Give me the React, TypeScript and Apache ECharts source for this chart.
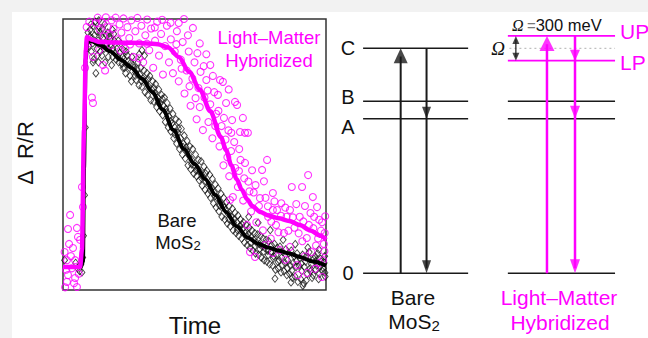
import React, { useEffect, useRef } from 'react';
import * as echarts from 'echarts';

const MAGENTA = '#ff00ff';
const FONT = '"Liberation Sans", Arial, Helvetica, sans-serif';

// ---- Left panel: transient reflectivity (arbitrary units, 0..100) ----
const bareFitTime = [0, 6.8, 7.6, 8.0, 8.6, 9.3, 11, 14, 18, 22, 26, 30, 34, 38, 42, 46, 50, 54, 58, 62, 66, 70, 74, 78, 82, 86, 90, 95, 100];
const bareFitSignal = [8.5, 8.5, 10.5, 45, 85, 92, 91.8, 90.4, 88, 85, 82, 78, 73, 66.5, 59, 52, 46.5, 41, 35, 28.8, 23.5, 19.5, 17.2, 15.7, 14.5, 13.5, 12.2, 10.5, 9];

const hybridFitTime = [0, 6.5, 7.2, 8.0, 8.7, 9.1, 11, 14, 20, 26, 32, 36, 40, 44, 48, 52, 56, 60, 62, 64, 66, 68, 70, 72, 75, 78, 82, 86, 90, 94, 98, 100];
const hybridFitSignal = [8.5, 8.5, 14.8, 59, 88.6, 93.4, 92.3, 91.5, 91.3, 91.2, 91, 90.7, 89.5, 86, 80.5, 74, 66, 56.5, 51.7, 46, 41, 37, 33.5, 31, 28.8, 27.5, 26.5, 25.5, 24, 22, 20, 18.5];

const bareData: [number, number][] = [
  [0.6, 11], [4.8, 10], [5.5, 8], [6.3, 7], [6.8, 9.5], [7.2, 6.5], [7.5, 12], [7.8, 20], [8.2, 35], [8.5, 60],
  [9.5, 95], [10.3, 96], [11, 93], [11.5, 97.5], [12.2, 99], [12.8, 95.5], [13.3, 92], [13.8, 97], [14.5, 94], [15.2, 93],
  [15.8, 98], [16.3, 91], [17, 95], [17.6, 93.5], [18.2, 90], [18.8, 96], [19.5, 92], [10.8, 88], [11.6, 85], [12.5, 80],
  [13.5, 84], [14.8, 86.5], [16, 84], [17.2, 86], [18.5, 83], [19.8, 87.5], [20.5, 89], [21.2, 84], [22, 91], [22.7, 86],
  [23.4, 82], [24, 88], [24.8, 84.5], [25.5, 79], [26.2, 86], [27, 82], [27.8, 77.5], [28.5, 84], [29.2, 79.5], [30, 75],
  [30.8, 81], [31.5, 77], [32.2, 72], [33, 79], [33.7, 74], [34.5, 69.5], [35.2, 76], [36, 71], [36.7, 66], [37.5, 72],
  [38.2, 68], [38.9, 62], [39.6, 69], [40.3, 64], [41, 58.5], [41.8, 65], [42.5, 60], [43.2, 54], [44, 62], [44.7, 56],
  [45.4, 50], [46.1, 57], [46.8, 52.5], [47.5, 46], [48.2, 53], [49, 48], [49.7, 43], [50.4, 50], [51.1, 45], [51.8, 40.5],
  [52.5, 47.5], [53.2, 42], [54, 37], [54.7, 44], [55.4, 39], [56.1, 34], [56.8, 41], [57.5, 36], [58.2, 30.5], [59, 37.5],
  [59.7, 32.5], [60.4, 27], [61.1, 34], [61.8, 29.5], [62.5, 24.5], [63.2, 31], [64, 27], [64.7, 22], [65.4, 28.5], [66.1, 25],
  [66.8, 20], [67.5, 26], [68.2, 22.5], [69, 17.5], [69.7, 24], [70.4, 20.5], [71.1, 15.5], [71.8, 22], [72.5, 18.5], [73.2, 13.5],
  [74, 20.5], [74.7, 17], [75.4, 12], [76.1, 19], [76.8, 15.5], [77.5, 10.5], [78.2, 18], [79, 14], [79.7, 9], [80.4, 17],
  [81.1, 13], [81.8, 8], [82.5, 16], [83.2, 12], [84, 7], [84.7, 15], [85.4, 11], [86.1, 6], [86.8, 14.5], [87.5, 10],
  [88.2, 5], [89, 13.5], [89.7, 9], [90.4, 4], [91.1, 13], [91.8, 8.5], [92.5, 3.5], [93.2, 12], [94, 8], [94.7, 4.5],
  [95.4, 11.5], [96.1, 7.5], [96.8, 13.5], [97.5, 6], [98.2, 10.5], [99, 8], [99.5, 12.5], [99.7, 5],
  [9.8, 90], [10.6, 98], [11.3, 91], [12, 94], [12.9, 89], [13.6, 99.5], [14.2, 88], [15, 96.5], [15.6, 89], [16.5, 94],
  [17.3, 89], [18, 92.5], [18.9, 86], [19.3, 94.5], [20.2, 85], [21, 92], [21.6, 87.5], [22.4, 83.5], [23, 88.5], [23.8, 80],
  [24.5, 86.5], [25.2, 82], [26, 77], [26.6, 83], [27.4, 79], [28.2, 81.5], [28.9, 75.5], [29.6, 82], [30.4, 78], [31.2, 73],
  [31.9, 80], [32.6, 75], [33.4, 70], [34.1, 77], [34.9, 72.5], [35.6, 67.5], [36.4, 74], [37.1, 69], [37.9, 64.5], [38.6, 71],
  [39.3, 65.5], [40, 60], [40.7, 67], [41.4, 61.5], [42.1, 56], [42.9, 63], [43.6, 58], [44.3, 52], [45, 59.5], [45.8, 54],
  [46.5, 48.5], [47.2, 55], [47.9, 50], [48.6, 44.5], [49.3, 52], [50.1, 46], [50.8, 42], [51.5, 48], [52.2, 43.5], [52.9, 38.5],
  [53.6, 45.5], [54.4, 40], [55.1, 35.5], [55.8, 42.5], [56.5, 37.5], [57.2, 32], [57.9, 39], [58.6, 34], [59.3, 29], [60.1, 35.5],
  [60.8, 31], [61.5, 26], [62.2, 32.5], [62.9, 28], [63.6, 23.5], [64.4, 30], [65.1, 26], [65.8, 21], [66.5, 27.5], [67.2, 23.5],
  [67.9, 19], [68.6, 25], [69.3, 21], [70.1, 16.5], [70.8, 23], [71.5, 19.5], [72.2, 14.5], [72.9, 21], [73.6, 17.5], [74.4, 13],
  [75.1, 20], [75.8, 16], [76.5, 11], [77.2, 18.5], [77.9, 14.5], [78.6, 9.5], [79.3, 16.5], [80.1, 12.5], [80.8, 7.5], [81.5, 15.5],
  [82.2, 11], [82.9, 6.5], [83.6, 14], [84.4, 10], [85.1, 5.5], [85.8, 13.5], [86.5, 9], [87.2, 4.5], [87.9, 12.5], [88.6, 8.5],
  [89.3, 3], [90.1, 11.5], [90.8, 7], [91.5, 2.5], [92.2, 10.5], [92.9, 6], [93.6, 14], [94.4, 9.5], [95.1, 5.5], [95.8, 12.5],
  [96.5, 9], [97.2, 4], [97.9, 11.5], [98.6, 7], [99.3, 10],
  [29, 87], [30, 88.5], [31, 86.5], [22.8, 82], [11.4, 84], [13, 86.5],
  [10.1, 93.5], [12.6, 91.5], [14.1, 95.2], [16.8, 90.7], [19, 89], [20.9, 86], [23.1, 85.2], [25.8, 84], [27.6, 80.3], [29.9, 77.2],
  [32.4, 77.8], [34.6, 74.5], [36.2, 69.2], [37.8, 70.5], [39.1, 66.8], [40.9, 62.3], [42.6, 57.4], [43.9, 59.6], [45.6, 52.8], [47.1, 51.2],
  [48.9, 46.4], [50.6, 44.1], [52.7, 41.2], [54.2, 43], [55.9, 36.8], [57.7, 34.6], [59.5, 31.2], [61.3, 30.5], [63, 26.2], [64.9, 24.8],
  [66.3, 22.1], [68, 24.2], [69.9, 19.8], [71.3, 17.4], [73, 16.2], [74.8, 15.1], [76.3, 14.2], [78, 12.9], [79.9, 11.8], [81.7, 10.4],
  [83.4, 9.3], [85.3, 8.1], [87, 7.2], [88.8, 10.7], [90.6, 9.8], [92.3, 12.2], [94.1, 6.9], [96, 10.6], [97.8, 8.8], [99.6, 6.4],
  [70.6, 27], [74.2, 24.8], [78.8, 22.1], [83.7, 18.5], [88.3, 16.9], [93.1, 15.6], [97.3, 14.9], [80.6, 4.2], [86.7, 2.8], [91.2, 1.6]
];

const hybridData: [number, number][] = [
  [0.8, 1], [1.5, 3], [1.9, 5.5], [1.5, 11], [1.9, 22.5], [2.7, 27.7], [3.4, 8], [3.8, 15.5], [4.6, 4.4], [4.6, 11],
  [5.3, 1.1], [5.3, 22.9], [5.7, 19.6], [6.5, 18.5], [2.3, 17], [3, 12.5], [0.6, 14], [4.2, 2.5], [6, 6], [1.2, 7.5],
  [7.6, 30.6], [7.2, 38],
  [8.4, 82], [11, 71], [11.4, 69], [11.4, 86], [15.2, 83], [16, 81], [9, 97], [10, 99], [9.6, 91],
  [12.5, 98.5], [13.2, 100.5], [14, 96], [14.8, 99], [15.5, 93.5], [16.3, 100.6], [17, 97], [17.8, 94], [18.5, 99.5], [19.2, 96.5],
  [20, 100.5], [20.7, 92.5], [21.5, 98], [22.2, 95], [23, 100.2], [23.7, 89], [24.5, 97], [25.2, 93], [26, 99.5], [26.8, 86],
  [27.5, 95.5], [28.3, 100.4], [29, 91], [29.8, 97.5], [30.5, 84], [31.3, 94], [32, 99.8], [32.8, 88.5], [33.5, 96.5], [34.3, 82],
  [35, 92], [35.8, 99], [36.5, 86.5], [37.3, 94.5], [38, 79.5], [38.8, 90], [39.5, 97.5], [40.3, 84], [41, 92.5], [41.8, 80],
  [42.5, 88], [43.3, 95.5], [44, 77], [44.8, 85], [45.5, 91.5], [46.2, 72.5], [47, 81], [47.8, 88], [48.5, 68], [49.2, 78],
  [49.4, 96.7], [50, 84], [50.8, 63], [51.5, 74.5], [52, 67.5], [52.3, 80.5], [53.2, 59], [53.8, 71], [54.5, 77.5], [55.3, 62],
  [56, 68.5], [56.8, 56], [57.5, 73], [58.2, 65], [58.9, 72], [59.7, 77.5], [60.8, 76.8], [59.5, 53], [60.3, 60.5], [61, 46],
  [61.8, 55.5], [62.5, 49], [63.2, 42], [63.5, 33.2], [64, 58], [64.3, 62.7], [64.6, 34.3], [65.4, 69.4], [66.2, 68.3], [65.5, 45],
  [66.5, 38], [67.3, 58.3], [67.5, 48], [68.4, 63.5], [68.5, 33], [69.2, 58], [69.2, 46.9], [70, 24], [70.3, 58], [70.5, 40],
  [71.1, 14], [71.5, 29], [72.5, 36], [73, 12.2], [73.5, 25], [74.5, 31], [75.7, 44.3], [76, 22], [77, 34], [77.6, 48],
  [78, 27], [79, 19], [79.8, 35.8], [79.8, 29.5], [79.8, 13.7], [81, 24], [81.4, 29.5], [82.5, 14.8], [83, 32], [84, 21],
  [85, 27], [86.3, 29.5], [86.3, 15.9], [87, 38], [88, 23], [89, 9.2], [89.4, 5.5], [90, 27], [90.9, 38], [91, 18],
  [92, 31], [92.8, 6.3], [93.2, 42.4], [93.5, 24], [94.5, 14], [95, 34.3], [95.5, 27], [96.6, 30.6], [97, 19], [97.5, 10],
  [98.5, 25], [98.5, 4.8], [98.9, 11], [99.5, 21], [99.2, 17],
  [44, 98.5], [46, 100], [47.5, 94], [52, 91], [54.5, 87], [56, 83], [57, 79], [62, 69], [63, 74], [67, 52],
  [13.8, 88.5], [18.1, 90.2], [21.9, 88.4], [25.5, 90.6], [28.9, 85.5], [31.9, 90.9], [34.9, 96.9], [37.7, 99.7], [40.9, 98.6], [43.1, 90.7],
  [45.1, 81.7], [48.1, 75.2], [50.4, 70.8], [51.1, 87.4], [53.5, 82.6], [55, 73.6], [57.9, 60.5], [59.1, 66.1], [61.2, 63.5], [62.9, 58.9],
  [63.9, 51.3], [65.1, 54.6], [66.9, 43.9], [68.9, 41.2], [70.9, 36.4], [71.9, 44.2], [73.2, 38.7], [74.9, 33.9], [76.4, 40.1], [77.9, 30.9],
  [79.2, 25.2], [80.4, 32.7], [81.9, 21.3], [82.9, 27.4], [84.5, 30.4], [85.7, 21.9], [87.4, 26.8], [88.7, 31.7], [89.6, 20.9], [91.4, 25.3],
  [92.7, 19.2], [94.1, 28.4], [95.2, 22.8], [96.2, 16.4], [97.4, 25.9], [98.1, 21.9], [99.4, 14.3], [99.7, 27.2], [84.6, 11.2], [76.8, 16.6],
  [91.9, 12.4], [95.8, 7.8]
];

// ---- Right panel: energy levels (meV) ----
const levelNames = ['0', 'A', 'B', 'C'];
const levelEnergies = [0, 1880, 2090, 2735];
const rabiSplitting = 300; // Ω
const polaritonNames = ['UP', 'LP'];
const polaritonEnergies = [levelEnergies[3] + rabiSplitting / 2, levelEnergies[3] - rabiSplitting / 2];

export default function App() {
  const ref = useRef<HTMLDivElement>(null);
  useEffect(() => {
    if (!ref.current) return;
    const chart = echarts.init(ref.current, undefined, { renderer: 'svg' });
    const [E0, EA, EB, EC] = levelEnergies;
    const [EUP, ELP] = polaritonEnergies;

    const seg = (x1: number, y1: number, x2: number, y2: number, color: string, width: number, type: any = 'solid') => ({
      type: 'line', xAxisIndex: 1, yAxisIndex: 1, data: [[x1, y1], [x2, y2]], symbol: 'none', silent: true,
      lineStyle: { color, width, type }, z: 3, clip: false,
    });
    const head = (x: number, y: number, up: boolean, size: [number, number], color: string) => ({
      type: 'scatter', xAxisIndex: 1, yAxisIndex: 1, data: [[x, y]], symbol: 'triangle', symbolSize: size,
      symbolRotate: up ? 0 : 180, symbolOffset: [0, up ? size[1] / 2 : -size[1] / 2], itemStyle: { color }, z: 4, silent: true, clip: false,
    });

    const bareL = 7.5, bareR = 41.6, hybL = 54.5, hybR = 89.3;
    const barePump = 19.7, bareRelax = 28.1, hybPump = 67.2, hybRelax = 76.3, omegaX = 57.1;
    const K = '#1a1a1a';

    const diagram: any[] = [
      seg(bareL, EC, bareR, EC, K, 1.5), seg(bareL, EB, bareR, EB, K, 1.5), seg(bareL, EA, bareR, EA, K, 1.5), seg(bareL, E0, bareR, E0, K, 1.5),
      seg(hybL, EB, hybR, EB, K, 1.5), seg(hybL, EA, hybR, EA, K, 1.5), seg(hybL, E0, hybR, E0, K, 1.5),
      seg(hybL + 0.5, EC, hybR, EC, '#b0b0b0', 1, [2, 3]),
      seg(hybL, EUP, hybR, EUP, MAGENTA, 1.8), seg(hybL, ELP, hybR, ELP, MAGENTA, 1.8),
      seg(barePump, E0, barePump, EC - 100, K, 2), head(barePump, EC, true, [14, 15], K),
      seg(bareRelax, EC, bareRelax, E0 + 60, K, 2), head(bareRelax, EA, false, [9, 12], K), head(bareRelax, E0, false, [9, 13], K),
      seg(hybPump, E0, hybPump, EUP - 100, MAGENTA, 2.5), head(hybPump, EUP, true, [15, 15], MAGENTA),
      seg(hybRelax, EUP, hybRelax, E0 + 60, MAGENTA, 2.5), head(hybRelax, ELP, false, [10, 11], MAGENTA),
      head(hybRelax, EA, false, [10, 13], MAGENTA), head(hybRelax, E0, false, [10, 14], MAGENTA),
      seg(omegaX, ELP + 40, omegaX, EUP - 40, K, 1.2), head(omegaX, EUP, true, [7, 8], K), head(omegaX, ELP, false, [7, 8], K),
    ];

    const txt = (text: string, x: number, y: number, size: number, fill: string, align = 'center', font = FONT, style = '') => ({
      type: 'text', silent: true, z: 10,
      style: { text, x, y, font: `${style}${size}px ${font}`, fill, align, verticalAlign: 'middle' },
    });
    const mos2 = (x: number, y: number, size: number) => ({
      type: 'text', silent: true, z: 10,
      style: {
        text: '{a|MoS}{s|2}', x, y, align: 'center', verticalAlign: 'middle', fill: '#111',
        rich: {
          a: { fontSize: size, fontFamily: FONT, fill: '#111', lineHeight: size + 2 },
          s: { fontSize: Math.round(size * 0.7), fontFamily: FONT, fill: '#111', lineHeight: 6, verticalAlign: 'bottom' },
        },
      },
    });

    chart.setOption({
      animation: false,
      backgroundColor: '#f2f2f2',
      graphic: {
        elements: [
          { type: 'rect', shape: { x: 12, y: 12, width: 636, height: 326 }, style: { fill: '#ffffff' }, z: -100, silent: true },
          txt('Light\u2013Matter', 269, 37, 18.5, MAGENTA),
          txt('Hybridized', 269, 60, 18.5, MAGENTA),
          txt('Bare', 177, 220, 18.5, '#111'),
          mos2(178, 242, 18.5),
          txt('Time', 195, 325, 24, '#111'),
          {
            type: 'text', silent: true, z: 10, x: 25, y: 153, rotation: Math.PI / 2,
            style: { text: '\u0394  R/R', x: 0, y: 0, font: `22px ${FONT}`, fill: '#111', align: 'center', verticalAlign: 'middle' },
          },
          txt(levelNames[3], 348, 48, 20, '#111'),
          txt(levelNames[2], 348, 97, 20, '#111'),
          txt(levelNames[1], 348, 127, 20, '#111'),
          txt(levelNames[0], 348, 273, 20, '#111'),
          txt(polaritonNames[0], 620, 31, 21, MAGENTA, 'left'),
          txt(polaritonNames[1], 620, 62, 21, MAGENTA, 'left'),
          txt('\u03A9', 498, 48, 19, '#111', 'center', '"Liberation Serif", "DejaVu Serif", serif', 'italic '),
          {
            type: 'text', silent: true, z: 10,
            style: {
              text: '{o|\u03A9} {e|=}{v|' + rabiSplitting + ' meV}', x: 512, y: 25, align: 'left', verticalAlign: 'middle',
              rich: {
                o: { font: 'italic 16px "Liberation Serif", "DejaVu Serif", serif', fill: '#111' },
                e: { fontSize: 15, fontFamily: FONT, fill: '#777' },
                v: { fontSize: 16.5, fontFamily: FONT, fill: '#111' },
              },
            },
          },
          txt('Bare', 413, 297, 21, '#111'),
          mos2(414, 321, 21),
          txt('Light\u2013Matter', 559, 297, 21, MAGENTA),
          txt('Hybridized', 560, 322, 21, MAGENTA),
        ],
      },
      grid: [
        { left: 63, top: 19, width: 263, height: 271, show: true, borderColor: '#333', borderWidth: 1.5, backgroundColor: 'transparent' },
        { left: 340, top: 26.5, width: 308, height: 246.8 },
      ],
      xAxis: [
        { type: 'value', gridIndex: 0, min: 0, max: 100, show: false },
        { type: 'value', gridIndex: 1, min: 0, max: 100, show: false },
      ],
      yAxis: [
        { type: 'value', gridIndex: 0, min: 0, max: 100, show: false },
        { type: 'value', gridIndex: 1, min: 0, max: 3000, show: false },
      ],
      series: [
        {
          type: 'scatter', data: bareData, symbol: 'diamond', symbolSize: [6, 7.5], clip: false, silent: true, z: 2,
          itemStyle: { color: 'rgba(0,0,0,0)', borderColor: '#111', borderWidth: 0.9 },
        },
        {
          type: 'scatter', data: hybridData, symbol: 'circle', symbolSize: 7, clip: false, silent: true, z: 2,
          itemStyle: { color: 'rgba(0,0,0,0)', borderColor: MAGENTA, borderWidth: 1.1 },
        },
        {
          type: 'line', data: bareFitTime.map((t, i) => [t, bareFitSignal[i]]), symbol: 'none', smooth: 0.3, smoothMonotone: 'x', silent: true, z: 3,
          lineStyle: { color: '#000', width: 4 },
        },
        {
          type: 'line', data: hybridFitTime.map((t, i) => [t, hybridFitSignal[i]]), symbol: 'none', smooth: 0.3, smoothMonotone: 'x', silent: true, z: 4,
          lineStyle: { color: MAGENTA, width: 4.5 },
        },
        ...diagram,
      ],
    });
    return () => chart.dispose();
  }, []);
  return <div ref={ref} style={{ position: 'absolute', left: 0, top: 0, width: 648, height: 338 }} />;
}
